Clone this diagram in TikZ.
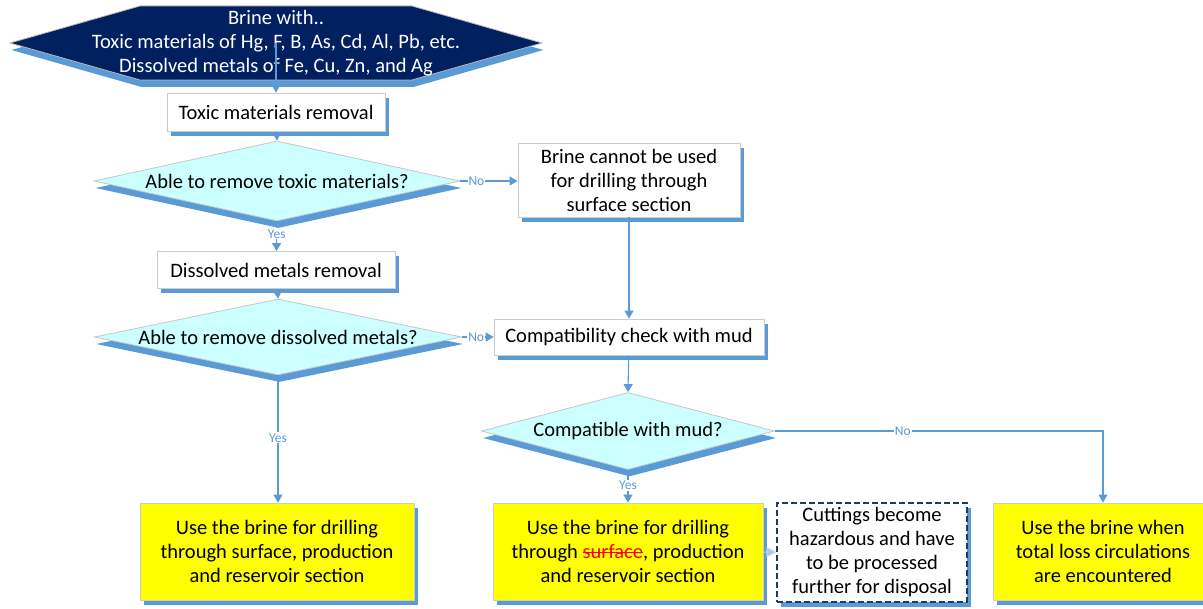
\documentclass[tikz,border=0pt]{standalone}
\usepackage{fontspec}
\setmainfont{Carlito}
\usetikzlibrary{shapes.geometric,arrows.meta,shadows,calc}
\definecolor{navy}{HTML}{002060}
\definecolor{conncol}{HTML}{5B9BD5}
\definecolor{shadcol}{HTML}{5B9BD5}
\definecolor{cyanfill}{HTML}{CCFFFF}
\definecolor{palearrow}{HTML}{BDD7EE}
\definecolor{paletip}{HTML}{A9C8EA}
\definecolor{dashcol}{HTML}{1F3864}
\definecolor{yellowfill}{HTML}{FFFF00}
\newsavebox\strikebox
\newcommand\redstrike[1]{\sbox\strikebox{#1}\rlap{\textcolor{red}{\rule[0.27em]{\wd\strikebox}{0.8pt}}}\usebox\strikebox}
\begin{document}
\begin{tikzpicture}[x=1pt,y=-1pt,
  every node/.style={font=\fontsize{20.5}{24}\selectfont, align=center, inner sep=0pt},
  shad/.style={drop shadow={shadow xshift=4pt, shadow yshift=-5pt, fill=shadcol, opacity=1}},
  dshad/.style={drop shadow={shadow xshift=1.5pt, shadow yshift=-7pt, fill=shadcol, opacity=1}},
  box/.style={rectangle, draw=gray!40, line width=0.8pt, fill=white, shad},
  ybox/.style={rectangle, draw=gray!40, line width=0.8pt, fill=yellowfill, shad},
  dbox/.style={rectangle, draw=dashcol, dashed, dash pattern=on 6pt off 3pt, line width=1.1pt, fill=white, shad},
  dia/.style={diamond, aspect=4, draw=gray!45, line width=0.8pt, fill=cyanfill, dshad},
  conn/.style={draw=conncol, line width=1.1pt, -{Triangle[width=9pt,length=8pt]}},
  lab/.style={font=\fontsize{13.5}{15}\selectfont, text=conncol, fill=white, inner sep=1pt}
]
\useasboundingbox (0,0) rectangle (1203,609);

% hexagon start
\coordinate (hexc) at (276,43);
\path[draw=gray!55, line width=0.8pt, fill=navy, dshad]
  ($(hexc)+(-266,0)$) -- ($(hexc)+(-136,-37)$) -- ($(hexc)+(136,-37)$) --
  ($(hexc)+(266,0)$) -- ($(hexc)+(136,37)$) -- ($(hexc)+(-136,37)$) -- cycle;
\node[text=white] (hex) at (hexc) {Brine with..\\Toxic materials of Hg, F, B, As, Cd, Al, Pb, etc.\\Dissolved metals of Fe, Cu, Zn, and Ag};

% process boxes
\node[box, minimum width=218, minimum height=38] (tox) at (276,112) {Toxic materials removal};
\node[dia, minimum width=366, minimum height=80] (d1) at (277,181) {};
\node (d1t) at (d1.center) {Able to remove toxic materials?};
\node[box, minimum width=222, minimum height=74] (nouse) at (629,180) {Brine cannot be used\\for drilling through\\surface section};
\node[box, minimum width=238, minimum height=37] (diss) at (276,270) {Dissolved metals removal};
\node[dia, minimum width=367, minimum height=76] (d2) at (278,337) {};
\node (d2t) at (d2.center) {Able to remove dissolved metals?};
\node[box, minimum width=270, minimum height=36] (comp) at (629,337) {Compatibility check with mud};
\node[dia, minimum width=293, minimum height=77] (d3) at (628,431) {};
\node (d3t) at (d3.center) {Compatible with mud?};

% outcome boxes
\node[ybox, minimum width=274, minimum height=97] (y1) at (277,551.5) {Use the brine for drilling\\through surface, production\\and reservoir section};
\node[ybox, minimum width=270, minimum height=97] (y2) at (628,551.5) {Use the brine for drilling\\through \redstrike{\textcolor{red}{surface}}, production\\and reservoir section};
\node[dbox, minimum width=190, minimum height=99] (haz) at (872,552.5) {Cuttings become\\hazardous and have\\to be processed\\further for disposal};
\node[ybox, minimum width=220, minimum height=97] (y3) at (1103,551.5) {Use the brine when\\total loss circulations\\are encountered};

% connectors
\draw[conn] (hex.center) -- (tox);
\draw[conn] (tox) -- (d1.north);
\draw[conn] (d1.east) -- node[lab, pos=0.28]{No} (nouse.west |- d1.east);
\draw[conn] (d1.south) -- node[lab, pos=0.42]{Yes} (diss);
\draw[conn] (diss) -- (d2.north);
\draw[conn] (d2.east) -- node[lab, pos=0.45]{No} (comp.west |- d2.east);
\draw[conn] (nouse) -- (comp);
\draw[conn] (comp) -- (d3.north);
\draw[conn] (d2.south) -- node[lab, pos=0.49]{Yes} (y1.north -| d2.south);
\draw[conn] (d3.south) -- node[lab, pos=0.48]{Yes} (y2.north -| d3.south);
\draw[conn] (d3.east) -| node[lab, pos=0.195]{No} (y3.north);
\draw[draw=palearrow, line width=1.1pt, -{Triangle[width=10pt,length=10pt,fill=paletip]}] (y2) -- (haz);
\end{tikzpicture}
\end{document}
